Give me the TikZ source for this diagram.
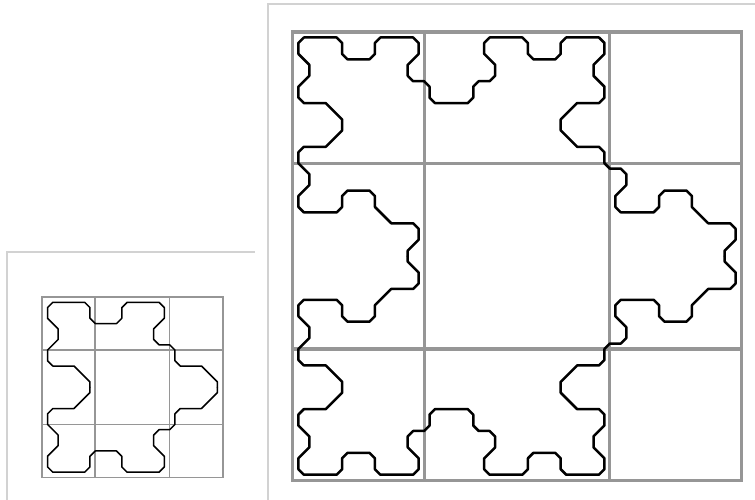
\documentclass[tikz,border=0pt]{standalone}
\usepackage{tikz}
\usetikzlibrary{calc}
\definecolor{panelframe}{HTML}{D2D2D2}
\definecolor{cellline}{HTML}{969696}

\begin{document}
\begin{tikzpicture}[
  x=1pt,y=-1pt,
  frame/.style={draw=panelframe,line width=1.3pt},
  gridline/.style={draw=cellline,line cap=rect},
  curve/.style={draw=black,line join=round,line cap=round}
]
\useasboundingbox (0,0) rectangle (755,500);

% Axis frames of the two panels (only top and left edges show).
\draw[frame] (7,500) -- (7,252) -- (255,252);
\draw[frame] (268,500) -- (268,4) -- (755,4);

% Small panel: coarse curve, top half mirrored about its midline.
\coordinate (small-origin) at (47.5,302.3);
\begin{scope}[shift={(small-origin)},x=10.62pt,y=-10.62pt]
  \foreach \k in {-0.5,4.5,11.5,16.5} {
    \draw[gridline,line width=1.7pt] (\k,-0.5) -- (\k,16.5);
    \draw[gridline,line width=1.7pt] (-0.5,\k) -- (16.5,\k);
  }
  \foreach \flip in {1,-1}
    \draw[curve,line width=1.5pt,shift={(0,8)},yscale=\flip,shift={(0,-8)}]
      plot coordinates {(4,8) (4,7.5) (2.5,6) (0.5,6) (0,5.5) (0,4.5)
        (1,3.5) (1,2.5) (0,1.5) (0,0.5) (0.5,0) (3.5,0) (4,0.5) (4,1.5)
        (4.5,2) (6.5,2) (7,1.5) (7,0.5) (7.5,0) (10.5,0) (11,0.5)
        (11,1.5) (10,2.5) (10,3.5) (10.5,4) (11.5,4) (12,4.5) (12,5.5)
        (12.5,6) (14.5,6) (16,7.5) (16,8)};
\end{scope}

% Large panel: next level of the same curve.
\coordinate (large-origin) at (298.4,37.5);
\begin{scope}[shift={(large-origin)},x=10.93pt,y=-10.93pt]
  \foreach \k in {-0.5,11.5,28.5,40.5} {
    \draw[gridline,line width=3.1pt] (\k,-0.5) -- (\k,40.5);
    \draw[gridline,line width=3.1pt] (-0.5,\k) -- (40.5,\k);
  }
  \foreach \flip in {1,-1}
    \draw[curve,line width=2.5pt,shift={(0,20)},yscale=\flip,shift={(0,-20)}]
      plot coordinates {(10,20) (10,19.5) (11,18.5) (11,17.5) (10.5,17)
        (8.5,17) (7,15.5) (7,14.5) (6.5,14) (4.5,14) (4,14.5) (4,15.5)
        (3.5,16) (0.5,16) (0,15.5) (0,14.5) (1,13.5) (1,12.5) (0,11.5)
        (0,10.5) (0.5,10) (2.5,10) (4,8.5) (4,7.5) (2.5,6) (0.5,6)
        (0,5.5) (0,4.5) (1,3.5) (1,2.5) (0,1.5) (0,0.5) (0.5,0) (3.5,0)
        (4,0.5) (4,1.5) (4.5,2) (6.5,2) (7,1.5) (7,0.5) (7.5,0) (10.5,0)
        (11,0.5) (11,1.5) (10,2.5) (10,3.5) (10.5,4) (11.5,4) (12,4.5)
        (12,5.5) (12.5,6) (15.5,6) (16,5.5) (16,4.5) (16.5,4) (17.5,4)
        (18,3.5) (18,2.5) (17,1.5) (17,0.5) (17.5,0) (20.5,0) (21,0.5)
        (21,1.5) (21.5,2) (23.5,2) (24,1.5) (24,0.5) (24.5,0) (27.5,0)
        (28,0.5) (28,1.5) (27,2.5) (27,3.5) (28,4.5) (28,5.5) (27.5,6)
        (25.5,6) (24,7.5) (24,8.5) (25.5,10) (27.5,10) (28,10.5)
        (28,11.5) (28.5,12) (29.5,12) (30,12.5) (30,13.5) (29,14.5)
        (29,15.5) (29.5,16) (32.5,16) (33,15.5) (33,14.5) (33.5,14)
        (35.5,14) (36,14.5) (36,15.5) (37.5,17) (39.5,17) (40,17.5)
        (40,18.5) (39,19.5) (39,20)};
\end{scope}
\end{tikzpicture}
\end{document}
